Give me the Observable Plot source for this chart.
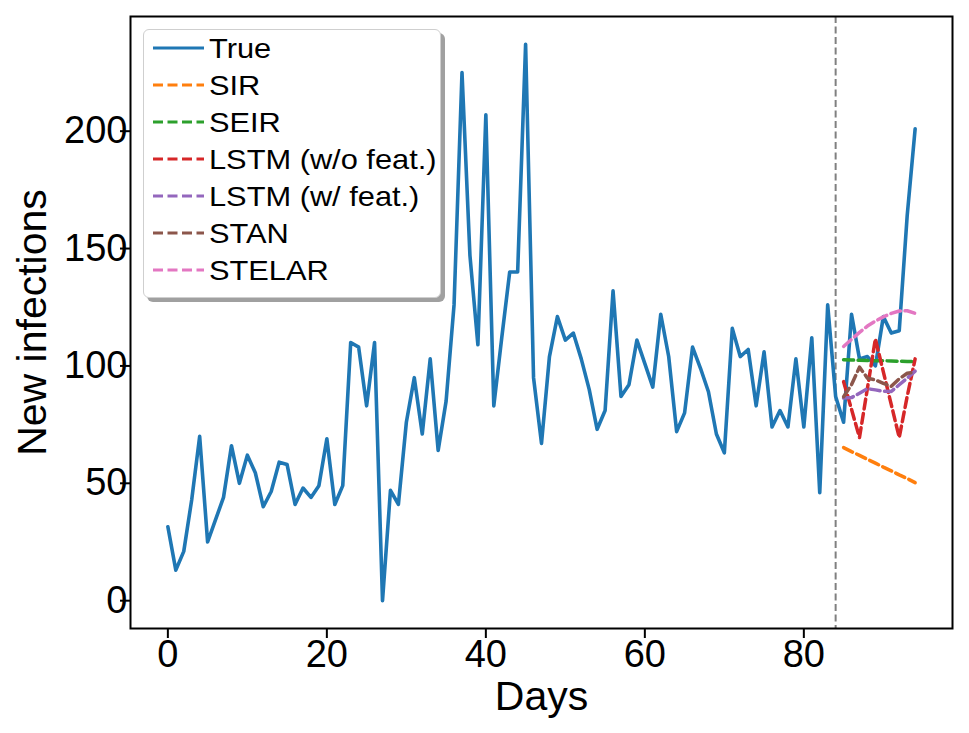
<!DOCTYPE html>
<html>
<head>
<meta charset="utf-8">
<script src="https://cdn.jsdelivr.net/npm/d3@7"></script>
<script src="https://cdn.jsdelivr.net/npm/@observablehq/plot@0.6"></script>
<style>
  html, body { margin: 0; padding: 0; background: #fff; }
  #wrap { position: relative; width: 969px; height: 733px; font-family: "Liberation Sans", Arial, sans-serif; }
  #legend { position: absolute; left: 143px; top: 29px; width: 296px; height: 267px;
    background: #fff; border: 1.5px solid #cfcfcf; border-radius: 6px; box-shadow: 4px 4px 0 #a0a0a0; }
  .row { position: absolute; left: 0; height: 30px; display: flex; align-items: center; }
  .row svg { margin-left: 9px; }
  .row span { margin-left: 5px; font-size: 28.5px; color: #000; white-space: nowrap;
    display: inline-block; transform: scaleX(1.08); transform-origin: left center; }
</style>
</head>
<body>
<div id="wrap"><div id="legend"></div></div>
<script>
// ---- data ----
const trueDays = d3.range(0, 95);
const trueValues = [
  31.5, 13, 21, 43, 70, 25, 34.5, 44, 66, 50,
  62, 54.5, 40, 46.5, 59, 58, 41, 48, 44, 49,
  69, 41, 49, 110, 108, 83, 110, 0, 47, 41,
  76, 95, 71, 103, 64, 85, 126, 225, 147, 109,
  207, 83, 112, 140, 140, 237, 95, 67, 104, 121,
  111, 114, 103, 90, 73, 81, 132, 87, 92, 111,
  101, 91, 122, 104, 72, 80, 108, 99, 89, 71,
  63, 116, 104, 107, 83, 106, 74, 81, 74, 103,
  74, 112, 46, 126, 87, 76, 122, 103, 104, 100,
  121, 114, 115, 164, 201
];
const forecastDays = [85, 86, 87, 88, 89, 90, 91, 92, 93, 94];
const sirValues    = [65.2, 63.5, 61.9, 60.2, 58.6, 56.9, 55.3, 53.6, 52.0, 50.3];
const seirValues   = [102.6, 102.5, 102.4, 102.3, 102.2, 102.2, 102.1, 102.0, 101.9, 101.8];
const lstmNoValues = [93.3, 81.5, 69.5, 90.5, 111.5, 97.5, 83.5, 69.5, 87, 103];
const lstmWValues  = [86.3, 86.5, 88.4, 90.3, 89.8, 89.2, 89.1, 92, 94.8, 97.8];
const stanValues   = [86.9, 92, 99.5, 94.8, 94, 92.6, 91.3, 94.5, 96.9, 97.3];
const stelarValues = [108.3, 111.3, 114.3, 117, 119.1, 120.9, 122.4, 123.4, 123.5, 122.4];
const forecastStart = 84;
const xTicks = [0, 20, 40, 60, 80];
const yTicks = [0, 50, 100, 150, 200];

const seriesNames = ["True", "SIR", "SEIR", "LSTM (w/o feat.)", "LSTM (w/ feat.)", "STAN", "STELAR"];
const seriesColors = ["#1f77b4", "#ff7f0e", "#2ca02c", "#d62728", "#9467bd", "#8c564b", "#e377c2"];
const forecastSeries = [sirValues, seirValues, lstmNoValues, lstmWValues, stanValues, stelarValues];

// ---- tables ----
const trueData = trueDays.map((d, i) => ({day: d, value: trueValues[i]}));
const fcData = [];
forecastSeries.forEach((vals, k) => {
  vals.forEach((v, i) => fcData.push({day: forecastDays[i], value: v, series: seriesNames[k + 1]}));
});

const yMax = d3.max(trueValues);
const xPad = (94 - 0) * 0.05, yPad = yMax * 0.05;

const chart = Plot.plot({
  width: 969,
  height: 733,
  marginLeft: 130,
  marginRight: 17,
  marginTop: 16,
  marginBottom: 105,
  style: {fontFamily: "'Liberation Sans', Arial, sans-serif", background: "#fff", color: "#000"},
  x: {domain: [0 - xPad, 94 + xPad]},
  y: {domain: [0 - yPad, yMax + yPad]},
  color: {domain: seriesNames, range: seriesColors},
  marks: [
    Plot.ruleX([forecastStart], {stroke: "#808080", strokeWidth: 2, strokeDasharray: "7,3.5"}),
    Plot.line(trueData, {x: "day", y: "value", stroke: seriesColors[0], strokeWidth: 3.6, strokeLinejoin: "round"}),
    Plot.line(fcData, {x: "day", y: "value", z: "series", stroke: "series", strokeWidth: 3.5, strokeDasharray: "10,4.5"}),
    Plot.frame({stroke: "#000", strokeWidth: 2}),
    Plot.axisX({ticks: xTicks, tickSize: 10, tickPadding: 2, fontSize: 38, strokeWidth: 2,
      label: "Days", labelAnchor: "center", labelArrow: "none", labelOffset: 81}),
    Plot.axisY({ticks: yTicks, tickSize: 10, tickPadding: -7, fontSize: 38, strokeWidth: 2,
      label: "New infections", labelAnchor: "center", labelArrow: "none", labelOffset: 114})
  ]
});
document.getElementById("wrap").prepend(chart);

// enlarge axis label fonts
d3.select(chart).selectAll("g[aria-label='x-axis label'] text, g[aria-label='y-axis label'] text")
  .attr("font-size", 41);

// ---- legend ----
const legend = document.getElementById("legend");
seriesNames.forEach((name, i) => {
  const row = document.createElement("div");
  row.className = "row";
  row.style.top = (3 + i * 37) + "px";
  const dash = i === 0 ? "" : "stroke-dasharray='10,4.5'";
  row.innerHTML = `<svg width="51" height="10"><line x1="0" y1="5" x2="51" y2="5" stroke="${seriesColors[i]}" stroke-width="3.2" ${dash}/></svg><span>${name}</span>`;
  legend.appendChild(row);
});
</script>
</body>
</html>
